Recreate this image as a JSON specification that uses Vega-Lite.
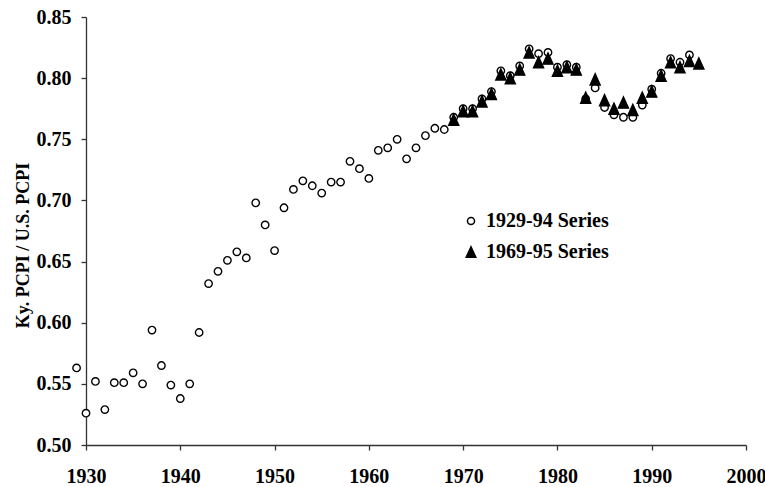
{
  "$schema": "https://vega.github.io/schema/vega-lite/v6.json",
  "width": 660,
  "height": 428,
  "autosize": {"type": "none"},
  "padding": {"left": 86, "top": 17, "right": 19, "bottom": 42},
  "background": "white",
  "config": {
    "view": {"stroke": null},
    "font": "Liberation Serif",
    "axis": {
      "labelFont": "Liberation Serif", "labelFontWeight": "bold", "labelFontSize": 20, "labelColor": "black",
      "titleFont": "Liberation Serif", "titleFontWeight": "bold", "titleFontSize": 18, "titleColor": "black",
      "domainColor": "#333333", "domainWidth": 1.3, "tickColor": "#333333", "tickWidth": 1.3, "tickSize": 5, "grid": false
    },
    "legend": {
      "labelFont": "Liberation Serif", "labelFontWeight": "bold", "labelFontSize": 20, "labelColor": "black"
    }
  },
  "data": {
    "values": [
      {"year": 1929, "value": 0.563, "series": "1929-94 Series"},
      {"year": 1930, "value": 0.526, "series": "1929-94 Series"},
      {"year": 1931, "value": 0.552, "series": "1929-94 Series"},
      {"year": 1932, "value": 0.529, "series": "1929-94 Series"},
      {"year": 1933, "value": 0.551, "series": "1929-94 Series"},
      {"year": 1934, "value": 0.551, "series": "1929-94 Series"},
      {"year": 1935, "value": 0.559, "series": "1929-94 Series"},
      {"year": 1936, "value": 0.550, "series": "1929-94 Series"},
      {"year": 1937, "value": 0.594, "series": "1929-94 Series"},
      {"year": 1938, "value": 0.565, "series": "1929-94 Series"},
      {"year": 1939, "value": 0.549, "series": "1929-94 Series"},
      {"year": 1940, "value": 0.538, "series": "1929-94 Series"},
      {"year": 1941, "value": 0.550, "series": "1929-94 Series"},
      {"year": 1942, "value": 0.592, "series": "1929-94 Series"},
      {"year": 1943, "value": 0.632, "series": "1929-94 Series"},
      {"year": 1944, "value": 0.642, "series": "1929-94 Series"},
      {"year": 1945, "value": 0.651, "series": "1929-94 Series"},
      {"year": 1946, "value": 0.658, "series": "1929-94 Series"},
      {"year": 1947, "value": 0.653, "series": "1929-94 Series"},
      {"year": 1948, "value": 0.698, "series": "1929-94 Series"},
      {"year": 1949, "value": 0.680, "series": "1929-94 Series"},
      {"year": 1950, "value": 0.659, "series": "1929-94 Series"},
      {"year": 1951, "value": 0.694, "series": "1929-94 Series"},
      {"year": 1952, "value": 0.709, "series": "1929-94 Series"},
      {"year": 1953, "value": 0.716, "series": "1929-94 Series"},
      {"year": 1954, "value": 0.712, "series": "1929-94 Series"},
      {"year": 1955, "value": 0.706, "series": "1929-94 Series"},
      {"year": 1956, "value": 0.715, "series": "1929-94 Series"},
      {"year": 1957, "value": 0.715, "series": "1929-94 Series"},
      {"year": 1958, "value": 0.732, "series": "1929-94 Series"},
      {"year": 1959, "value": 0.726, "series": "1929-94 Series"},
      {"year": 1960, "value": 0.718, "series": "1929-94 Series"},
      {"year": 1961, "value": 0.741, "series": "1929-94 Series"},
      {"year": 1962, "value": 0.743, "series": "1929-94 Series"},
      {"year": 1963, "value": 0.750, "series": "1929-94 Series"},
      {"year": 1964, "value": 0.734, "series": "1929-94 Series"},
      {"year": 1965, "value": 0.743, "series": "1929-94 Series"},
      {"year": 1966, "value": 0.753, "series": "1929-94 Series"},
      {"year": 1967, "value": 0.759, "series": "1929-94 Series"},
      {"year": 1968, "value": 0.758, "series": "1929-94 Series"},
      {"year": 1969, "value": 0.768, "series": "1929-94 Series"},
      {"year": 1970, "value": 0.775, "series": "1929-94 Series"},
      {"year": 1971, "value": 0.775, "series": "1929-94 Series"},
      {"year": 1972, "value": 0.783, "series": "1929-94 Series"},
      {"year": 1973, "value": 0.789, "series": "1929-94 Series"},
      {"year": 1974, "value": 0.806, "series": "1929-94 Series"},
      {"year": 1975, "value": 0.802, "series": "1929-94 Series"},
      {"year": 1976, "value": 0.810, "series": "1929-94 Series"},
      {"year": 1977, "value": 0.824, "series": "1929-94 Series"},
      {"year": 1978, "value": 0.820, "series": "1929-94 Series"},
      {"year": 1979, "value": 0.821, "series": "1929-94 Series"},
      {"year": 1980, "value": 0.809, "series": "1929-94 Series"},
      {"year": 1981, "value": 0.811, "series": "1929-94 Series"},
      {"year": 1982, "value": 0.809, "series": "1929-94 Series"},
      {"year": 1983, "value": 0.783, "series": "1929-94 Series"},
      {"year": 1984, "value": 0.792, "series": "1929-94 Series"},
      {"year": 1985, "value": 0.776, "series": "1929-94 Series"},
      {"year": 1986, "value": 0.770, "series": "1929-94 Series"},
      {"year": 1987, "value": 0.768, "series": "1929-94 Series"},
      {"year": 1988, "value": 0.768, "series": "1929-94 Series"},
      {"year": 1989, "value": 0.778, "series": "1929-94 Series"},
      {"year": 1990, "value": 0.791, "series": "1929-94 Series"},
      {"year": 1991, "value": 0.804, "series": "1929-94 Series"},
      {"year": 1992, "value": 0.816, "series": "1929-94 Series"},
      {"year": 1993, "value": 0.813, "series": "1929-94 Series"},
      {"year": 1994, "value": 0.819, "series": "1929-94 Series"},
      {"year": 1969, "value": 0.766, "series": "1969-95 Series"},
      {"year": 1970, "value": 0.773, "series": "1969-95 Series"},
      {"year": 1971, "value": 0.773, "series": "1969-95 Series"},
      {"year": 1972, "value": 0.781, "series": "1969-95 Series"},
      {"year": 1973, "value": 0.787, "series": "1969-95 Series"},
      {"year": 1974, "value": 0.803, "series": "1969-95 Series"},
      {"year": 1975, "value": 0.800, "series": "1969-95 Series"},
      {"year": 1976, "value": 0.807, "series": "1969-95 Series"},
      {"year": 1977, "value": 0.821, "series": "1969-95 Series"},
      {"year": 1978, "value": 0.813, "series": "1969-95 Series"},
      {"year": 1979, "value": 0.816, "series": "1969-95 Series"},
      {"year": 1980, "value": 0.806, "series": "1969-95 Series"},
      {"year": 1981, "value": 0.809, "series": "1969-95 Series"},
      {"year": 1982, "value": 0.807, "series": "1969-95 Series"},
      {"year": 1983, "value": 0.784, "series": "1969-95 Series"},
      {"year": 1984, "value": 0.799, "series": "1969-95 Series"},
      {"year": 1985, "value": 0.782, "series": "1969-95 Series"},
      {"year": 1986, "value": 0.775, "series": "1969-95 Series"},
      {"year": 1987, "value": 0.780, "series": "1969-95 Series"},
      {"year": 1988, "value": 0.774, "series": "1969-95 Series"},
      {"year": 1989, "value": 0.784, "series": "1969-95 Series"},
      {"year": 1990, "value": 0.789, "series": "1969-95 Series"},
      {"year": 1991, "value": 0.802, "series": "1969-95 Series"},
      {"year": 1992, "value": 0.813, "series": "1969-95 Series"},
      {"year": 1993, "value": 0.809, "series": "1969-95 Series"},
      {"year": 1994, "value": 0.814, "series": "1969-95 Series"},
      {"year": 1995, "value": 0.812, "series": "1969-95 Series"}
    ]
  },
  "mark": {"type": "point", "filled": true, "stroke": "black", "strokeWidth": 1.4, "size": 55, "opacity": 1, "clip": false},
  "encoding": {
    "x": {
      "field": "year", "type": "quantitative",
      "scale": {"domain": [1930, 2000], "nice": false, "zero": false},
      "axis": {"title": null, "values": [1930, 1940, 1950, 1960, 1970, 1980, 1990, 2000], "format": "d", "labelPadding": 16, "labelFlush": false}
    },
    "y": {
      "field": "value", "type": "quantitative",
      "scale": {"domain": [0.5, 0.85], "nice": false, "zero": false},
      "axis": {"title": "Ky. PCPI / U.S. PCPI", "values": [0.5, 0.55, 0.6, 0.65, 0.7, 0.75, 0.8, 0.85], "format": ".2f", "labelPadding": 10, "titleX": -54, "titleY": 228}
    },
    "shape": {
      "field": "series", "type": "nominal",
      "scale": {"domain": ["1929-94 Series", "1969-95 Series"], "range": ["circle", "M0,-1.5L-1.36,1.5L1.36,1.5Z"]},
      "legend": {"title": null, "orient": "none", "legendX": 375, "legendY": 194, "padding": 0, "symbolSize": 50, "labelOffset": 5, "rowPadding": 11,
        "encode": {"symbols": {"update": {"stroke": {"value": "black"}, "strokeWidth": {"value": 1.4}, "opacity": {"value": 1}}}}}
    },
    "fill": {
      "field": "series", "type": "nominal",
      "scale": {"domain": ["1929-94 Series", "1969-95 Series"], "range": ["white", "black"]},
      "legend": {"title": null, "orient": "none", "legendX": 375, "legendY": 194, "padding": 0, "symbolSize": 50, "labelOffset": 5, "rowPadding": 11,
        "encode": {"symbols": {"update": {"stroke": {"value": "black"}, "strokeWidth": {"value": 1.4}, "opacity": {"value": 1}}}}}
    }
  }
}
